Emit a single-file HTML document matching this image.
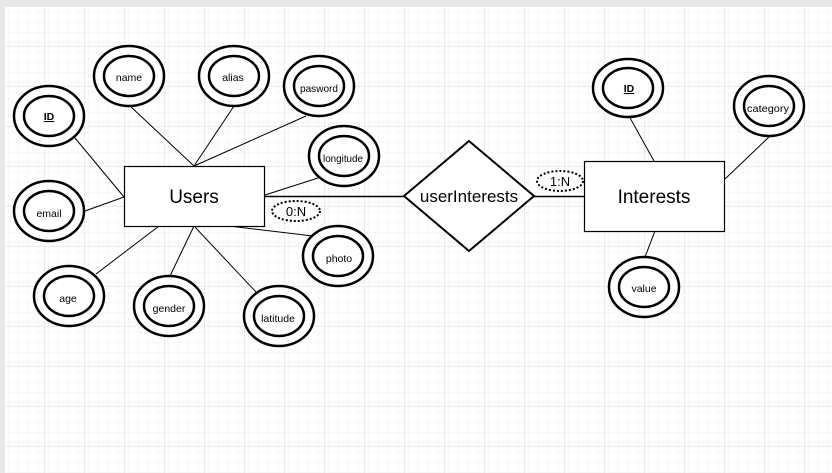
<!DOCTYPE html>
<html><head><meta charset="utf-8"><style>
html,body{margin:0;padding:0;background:#e8e8e8;width:832px;height:473px;overflow:hidden}
svg{display:block}
text{font-family:"Liberation Sans",sans-serif;fill:#000}
</style></head><body>
<svg width="832" height="473" viewBox="0 0 832 473" xmlns="http://www.w3.org/2000/svg">
<defs>
<pattern id="minor" x="4" y="6" width="10" height="10" patternUnits="userSpaceOnUse">
<path d="M0.5 0V10M0 0.5H10" stroke="#f7f7f7" stroke-width="1" fill="none"/>
</pattern>
<pattern id="major" x="4" y="6" width="40" height="40" patternUnits="userSpaceOnUse">
<rect width="40" height="40" fill="url(#minor)"/>
<path d="M0.5 0V40M0 0.5H40" stroke="#ebebeb" stroke-width="1" fill="none"/>
</pattern>
</defs>
<rect x="0" y="0" width="832" height="473" fill="#e8e8e8"/>
<rect x="4" y="6" width="828" height="467" fill="#fff"/>
<rect x="4" y="6" width="828" height="467" fill="url(#major)"/>

<g stroke="#000" stroke-width="1" fill="none">
<line x1="75" y1="138" x2="124" y2="197"/>
<line x1="85" y1="211" x2="124" y2="197"/>
<line x1="130" y1="106" x2="194" y2="166"/>
<line x1="234" y1="106" x2="194" y2="166"/>
<line x1="306" y1="116" x2="194" y2="166"/>
<line x1="318" y1="178" x2="265" y2="195"/>
<line x1="229" y1="226" x2="313" y2="236"/>
<line x1="96" y1="274" x2="159" y2="226"/>
<line x1="170" y1="276" x2="194" y2="226"/>
<line x1="256" y1="292" x2="194" y2="226"/>
<line x1="629" y1="116" x2="654" y2="161"/>
<line x1="770" y1="136" x2="725" y2="179"/>
<line x1="655" y1="231" x2="645" y2="257"/>
<line x1="265" y1="196.5" x2="404" y2="196.5" stroke-width="1.5"/>
<line x1="534" y1="196.5" x2="584" y2="196.5" stroke-width="1.5"/>
</g>

<g stroke="#000" stroke-width="2.5" fill="#fff">
<ellipse cx="49" cy="116" rx="35" ry="30"/><ellipse cx="49" cy="116" rx="25" ry="20"/>
<ellipse cx="129" cy="76" rx="35" ry="30"/><ellipse cx="129" cy="76" rx="25" ry="20"/>
<ellipse cx="234" cy="76" rx="35" ry="30"/><ellipse cx="234" cy="76" rx="25" ry="20"/>
<ellipse cx="319" cy="86" rx="35" ry="30"/><ellipse cx="319" cy="86" rx="25" ry="20"/>
<ellipse cx="344" cy="156" rx="35" ry="30"/><ellipse cx="344" cy="156" rx="25" ry="20"/>
<ellipse cx="49" cy="211" rx="35" ry="30"/><ellipse cx="49" cy="211" rx="25" ry="20"/>
<ellipse cx="338" cy="256" rx="35" ry="30"/><ellipse cx="338" cy="256" rx="25" ry="20"/>
<ellipse cx="69" cy="296" rx="35" ry="30"/><ellipse cx="69" cy="296" rx="25" ry="20"/>
<ellipse cx="169" cy="306" rx="35" ry="30"/><ellipse cx="169" cy="306" rx="25" ry="20"/>
<ellipse cx="279" cy="316" rx="35" ry="30"/><ellipse cx="279" cy="316" rx="25" ry="20"/>
<ellipse cx="628" cy="88" rx="35" ry="29"/><ellipse cx="628" cy="88" rx="25" ry="20"/>
<ellipse cx="769" cy="106" rx="35" ry="30"/><ellipse cx="769" cy="106" rx="25" ry="20"/>
<ellipse cx="644" cy="287" rx="35" ry="30"/><ellipse cx="644" cy="287" rx="25" ry="20"/>
</g>

<rect x="124.5" y="166.5" width="140" height="60" fill="#fff" stroke="#000" stroke-width="1.2"/>
<rect x="584.5" y="161.5" width="140" height="70" fill="#fff" stroke="#000" stroke-width="1.2"/>
<polygon points="404,196 469,141 534,196 469,251" fill="#fff" stroke="#000" stroke-width="2"/>

<g fill="#fff" stroke="#000" stroke-width="2" stroke-dasharray="2,2">
<ellipse cx="296" cy="211" rx="24" ry="10"/>
<ellipse cx="560" cy="181" rx="23" ry="10"/>
</g>

<g font-size="10.5" text-anchor="middle">
<text x="49" y="120" text-decoration="underline" font-weight="bold">ID</text>
<text x="129" y="81">name</text>
<text x="233" y="81">alias</text>
<text x="319" y="92" textLength="38" lengthAdjust="spacingAndGlyphs">pasword</text>
<text x="343" y="162" textLength="40" lengthAdjust="spacingAndGlyphs">longitude</text>
<text x="49" y="217">email</text>
<text x="339" y="262">photo</text>
<text x="68" y="302">age</text>
<text x="169" y="312">gender</text>
<text x="278" y="322">latitude</text>
<text x="629" y="92" text-decoration="underline" font-weight="bold">ID</text>
<text x="768" y="112" textLength="42" lengthAdjust="spacingAndGlyphs">category</text>
<text x="644" y="292">value</text>
</g>
<g font-size="13" text-anchor="middle">
<text x="296" y="216">0:N</text>
<text x="560" y="186">1:N</text>
</g>
<text x="194" y="203" font-size="19" text-anchor="middle">Users</text>
<text x="654" y="203" font-size="19" text-anchor="middle">Interests</text>
<text x="469" y="202" font-size="17" text-anchor="middle">userInterests</text>
</svg>
</body></html>
